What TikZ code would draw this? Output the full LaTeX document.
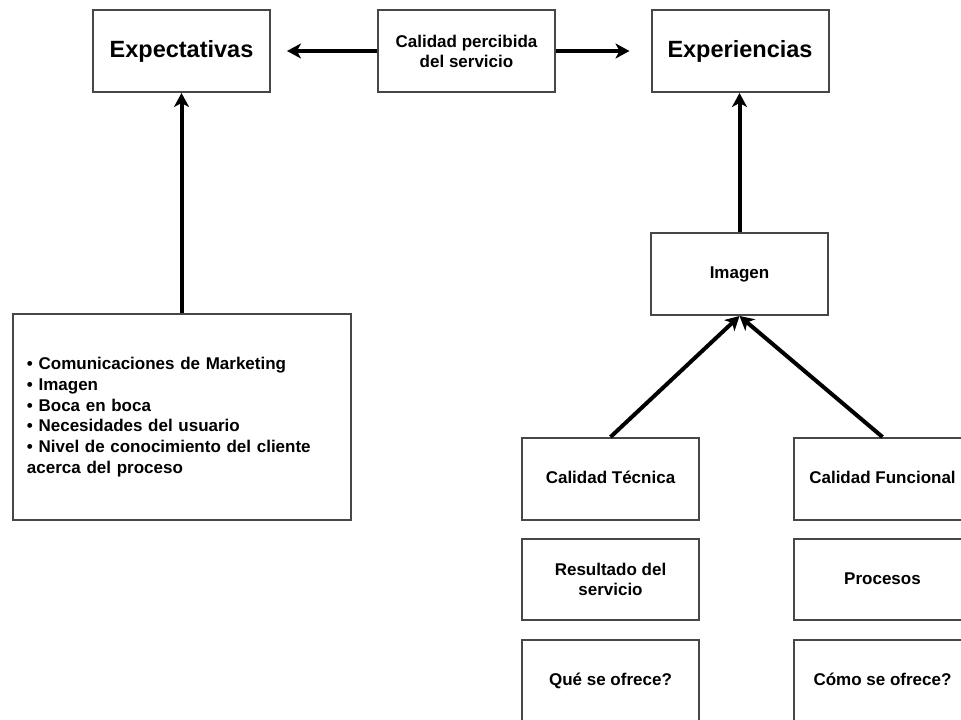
\documentclass[tikz,border=0pt]{standalone}
\usepackage{fontspec}
\setmainfont{Liberation Sans}
\usetikzlibrary{arrows.meta}
\begin{document}
\begin{tikzpicture}[x=1pt,y=-1pt,
  box/.style={draw=black!72,line width=2pt,rectangle,minimum width=177pt,minimum height=82pt,inner sep=0pt,align=center,font=\fontsize{17}{20}\selectfont\bfseries},
  bigbox/.style={box,font=\fontsize{23.5}{26}\selectfont\bfseries},
  oneline/.style={text height=12.5pt,text depth=3.5pt},
  conn/.style={line width=4pt,-{Stealth[length=14pt,width=15pt,inset=4pt]}}]
\useasboundingbox (0,0) rectangle (961,720);
\clip (0,0) rectangle (961,720);
\node[bigbox] (exp) at (181.5,51) {Expectativas};
\node[box] (cal) at (466.5,51) {Calidad percibida\\del servicio};
\node[bigbox] (expe) at (740,51) {Experiencias};
\node[box,minimum width=338pt,minimum height=206pt,text width=310pt,align=left,inner xsep=14pt,font=\fontsize{17}{20.7}\selectfont\bfseries] (lista) at (182,417)
  {• Comunicaciones de Marketing\\• Imagen\\• Boca en boca\\• Necesidades del usuario\\• Nivel de conocimiento del cliente\\acerca del proceso};
\node[box,oneline] (img) at (739.5,274) {Imagen};
\node[box,oneline] (ct) at (610.5,479) {Calidad Técnica};
\node[box,oneline] (cf) at (882.5,479) {Calidad Funcional};
\node[box,minimum height=81pt] (res) at (610.5,579.5) {Resultado del\\servicio};
\node[box,oneline,minimum height=81pt] (proc) at (882.5,579.5) {Procesos};
\node[box,oneline] (que) at (610.5,681) {Qué se ofrece?};
\node[box,oneline] (como) at (882.5,681) {Cómo se ofrece?};
\draw[conn,shorten >=16pt] (cal.west) -- (exp.east);
\draw[conn,shorten >=21pt] (cal.east) -- (expe.west);
\draw[conn] (lista.north -| exp.south) -- (exp.south);
\draw[conn] (img.north) -- (img.north |- expe.south);
\draw[conn] (ct.north) -- (img.south);
\draw[conn] (cf.north) -- (img.south);
\end{tikzpicture}
\end{document}
